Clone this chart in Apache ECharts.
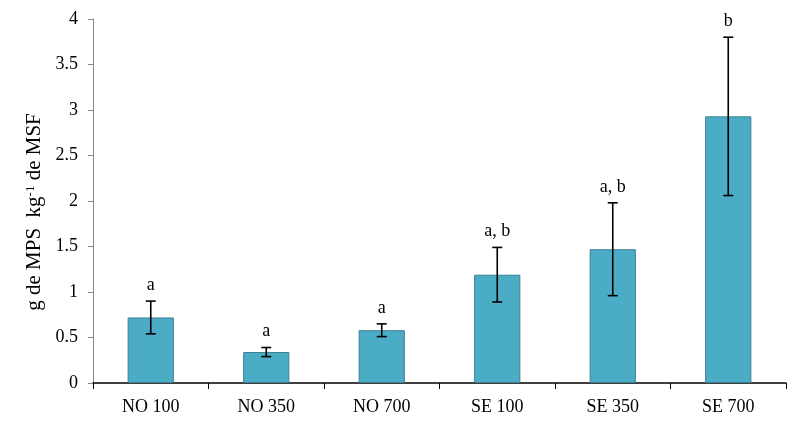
<!DOCTYPE html>
<html><head><meta charset="utf-8">
<script src="https://cdn.jsdelivr.net/npm/echarts@6/dist/echarts.min.js"></script>
<style>html,body{margin:0;padding:0;background:#fff}#c{width:800px;height:425px}</style>
</head><body><div id="c"></div>
<script>
const categories = ['NO 100','NO 350','NO 700','SE 100','SE 350','SE 700'];
const means = [0.72, 0.34, 0.58, 1.19, 1.47, 2.93];
const errors = [0.18, 0.05, 0.07, 0.30, 0.51, 0.87];
const letters = ['a','a','a','a, b','a, b','b'];
const yTicks = [0, 0.5, 1, 1.5, 2, 2.5, 3, 3.5, 4];

const font = 'Liberation Serif, Times New Roman, serif';
const chart = echarts.init(document.getElementById('c'));
chart.setOption({
  animation: false,
  grid: {left: 93, right: 14, top: 19, bottom: 42},
  xAxis: {
    type: 'category', data: categories,
    axisLine: {lineStyle: {color: '#000', width: 1.5}},
    axisTick: {show: true, length: 6, inside: false, lineStyle: {color: '#000'}},
    axisLabel: {color: '#000', fontFamily: font, fontSize: 18, margin: 15}
  },
  yAxis: {
    type: 'value', min: yTicks[0], max: yTicks[yTicks.length-1], interval: 0.5,
    splitLine: {show: false},
    axisLine: {show: true, lineStyle: {color: '#888'}},
    axisTick: {show: true, length: 5, lineStyle: {color: '#888'}},
    axisLabel: {color: '#000', fontFamily: font, fontSize: 18, margin: 15},
    name: '{a|g de MPS  kg}{s|-1}{a| de MSF}',
    nameLocation: 'middle', nameGap: 46, nameRotate: 90,
    nameTextStyle: {
      padding: [0, 22, 0, 0],
      rich: {
        a: {fontFamily: font, fontSize: 21, color: '#000', verticalAlign: 'bottom'},
        s: {fontFamily: font, fontSize: 13, color: '#000', verticalAlign: 'top'}
      }
    }
  },
  series: [
    {
      type: 'bar', data: means, barWidth: '40%',
      itemStyle: {color: '#4BACC6', borderColor: '#3D7F92', borderWidth: 1}
    },
    {
      type: 'custom',
      data: means.map((m, i) => [i, m - errors[i], m + errors[i]]),
      renderItem: function (params, api) {
        const i = api.value(0);
        const lo = api.coord([i, api.value(1)]);
        const hi = api.coord([i, api.value(2)]);
        const x = lo[0], cw = 5;
        const st = {stroke: '#000', lineWidth: 1.6};
        return {
          type: 'group',
          children: [
            {type: 'line', shape: {x1: x, y1: lo[1], x2: x, y2: hi[1]}, style: st},
            {type: 'line', shape: {x1: x - cw, y1: lo[1], x2: x + cw, y2: lo[1]}, style: st},
            {type: 'line', shape: {x1: x - cw, y1: hi[1], x2: x + cw, y2: hi[1]}, style: st},
            {type: 'text', x: x, y: hi[1] - 7,
             style: {text: letters[i], fill: '#000', font: '18px ' + font, textAlign: 'center', textVerticalAlign: 'bottom'}}
          ]
        };
      },
      z: 5
    }
  ]
});
</script></body></html>
